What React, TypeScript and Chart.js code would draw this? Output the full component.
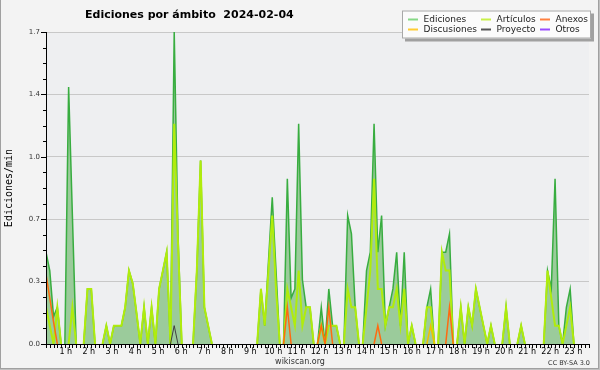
import { useEffect, useRef } from 'react';
import { Chart, registerables } from 'chart.js';

Chart.register(...registerables);

// ---- data: 10-minute bins over 2024-02-04 (edits per minute) ----
const BIN_HOURS = 1 / 6;
const SERIES_NAMES = ['Ediciones', 'Artículos', 'Anexos', 'Discusiones', 'Proyecto', 'Otros'];

const EDICIONES = [
  0.5, 0.4, 0.15, 0.2, 0, 0, 1.4, 0.7, 0, 0, 0, 0.3,
  0.3, 0, 0, 0, 0.1, 0, 0.1, 0.1, 0.1, 0.2, 0.4, 0.33,
  0.17, 0, 0.2, 0, 0.2, 0, 0.3, 0.4, 0.5, 0, 1.7, 0.6,
  0, 0, 0, 0, 0.4, 1.0, 0.2, 0.1, 0, 0, 0, 0,
  0, 0, 0, 0, 0, 0, 0, 0, 0, 0.3, 0.1, 0.45,
  0.8, 0.4, 0, 0, 0.9, 0.25, 0.3, 1.2, 0.35, 0.2, 0.2, 0,
  0, 0.2, 0, 0.3, 0.1, 0.1, 0, 0, 0.7, 0.6, 0.2, 0,
  0, 0.4, 0.5, 1.2, 0.5, 0.7, 0.1, 0.2, 0.3, 0.5, 0.1, 0.5,
  0, 0.1, 0, 0, 0, 0.2, 0.3, 0, 0, 0.5, 0.5, 0.6,
  0, 0, 0.2, 0, 0.2, 0.1, 0.3, 0.2, 0.1, 0, 0.1, 0,
  0, 0, 0.2, 0, 0, 0, 0.1, 0, 0, 0, 0, 0,
  0, 0.4, 0.3, 0.9, 0.1, 0, 0.2, 0.3, 0, 0, 0, 0,
];

const ARTICULOS = [
  0.2, 0.1, 0, 0.2, 0, 0, 0, 0.2, 0, 0, 0, 0.3,
  0.3, 0, 0, 0, 0.1, 0, 0.1, 0.1, 0.1, 0.2, 0.4, 0.33,
  0.17, 0, 0.2, 0, 0.2, 0, 0.3, 0.4, 0.5, 0, 1.2, 0.55,
  0, 0, 0, 0, 0.4, 1.0, 0.2, 0.1, 0, 0, 0, 0,
  0, 0, 0, 0, 0, 0, 0, 0, 0, 0.3, 0.1, 0.4,
  0.7, 0.3, 0, 0, 0.3, 0.2, 0.1, 0.4, 0.1, 0.2, 0.2, 0,
  0, 0.1, 0, 0.1, 0.1, 0.1, 0, 0, 0.3, 0.2, 0.2, 0,
  0, 0.2, 0.4, 0.9, 0.3, 0.3, 0.1, 0.2, 0.2, 0.3, 0.1, 0.3,
  0, 0.1, 0, 0, 0, 0.2, 0.2, 0, 0, 0.5, 0.4, 0.4,
  0, 0, 0.2, 0, 0.2, 0.1, 0.3, 0.2, 0.1, 0, 0.1, 0,
  0, 0, 0.2, 0, 0, 0, 0.1, 0, 0, 0, 0, 0,
  0, 0.4, 0.25, 0.1, 0.1, 0, 0.1, 0.2, 0, 0, 0, 0,
];

const ANEXOS = [
  0.38, 0.25, 0.12, 0, 0, 0, 0, 0, 0, 0, 0, 0,
  0, 0, 0, 0, 0, 0, 0, 0, 0, 0, 0, 0,
  0, 0, 0, 0, 0, 0, 0, 0, 0, 0, 0, 0,
  0, 0, 0, 0, 0, 0, 0, 0, 0, 0, 0, 0,
  0, 0, 0, 0, 0, 0, 0, 0, 0, 0, 0, 0,
  0, 0, 0, 0, 0.2, 0, 0, 0, 0, 0, 0, 0,
  0, 0.1, 0, 0.2, 0, 0, 0, 0, 0, 0, 0, 0,
  0, 0, 0, 0, 0.1, 0, 0, 0, 0, 0, 0, 0,
  0, 0, 0, 0, 0, 0, 0, 0, 0, 0, 0, 0.2,
  0, 0, 0, 0, 0, 0, 0, 0, 0, 0, 0, 0,
  0, 0, 0, 0, 0, 0, 0, 0, 0, 0, 0, 0,
  0, 0, 0, 0, 0, 0, 0, 0, 0, 0, 0, 0,
];

const DISCUSIONES = [
  0, 0, 0, 0, 0, 0, 0, 0, 0, 0, 0, 0,
  0, 0, 0, 0, 0, 0, 0, 0, 0, 0, 0, 0,
  0, 0, 0, 0, 0, 0, 0, 0, 0, 0, 0, 0,
  0, 0, 0, 0, 0, 0, 0, 0, 0, 0, 0, 0,
  0, 0, 0, 0, 0, 0, 0, 0, 0, 0, 0, 0,
  0, 0, 0, 0, 0, 0, 0, 0, 0, 0, 0, 0,
  0, 0, 0, 0, 0, 0, 0, 0, 0, 0, 0, 0,
  0, 0, 0, 0, 0, 0, 0, 0, 0, 0, 0, 0,
  0, 0, 0, 0, 0, 0, 0.1, 0, 0, 0, 0, 0,
  0, 0, 0, 0, 0, 0, 0, 0, 0, 0, 0, 0,
  0, 0, 0, 0, 0, 0, 0, 0, 0, 0, 0, 0,
  0, 0, 0, 0, 0, 0, 0, 0, 0, 0, 0, 0,
];

const PROYECTO = [
  0, 0, 0, 0, 0, 0, 0, 0, 0, 0, 0, 0,
  0, 0, 0, 0, 0, 0, 0, 0, 0, 0, 0, 0,
  0, 0, 0, 0, 0, 0, 0, 0, 0, 0, 0.1, 0,
  0, 0, 0, 0, 0, 0, 0, 0, 0, 0, 0, 0,
  0, 0, 0, 0, 0, 0, 0, 0, 0, 0, 0, 0,
  0, 0, 0, 0, 0, 0, 0, 0, 0, 0, 0, 0,
  0, 0, 0, 0, 0, 0, 0, 0, 0, 0, 0, 0,
  0, 0, 0, 0, 0, 0, 0, 0, 0, 0, 0, 0,
  0, 0, 0, 0, 0, 0, 0, 0, 0, 0, 0, 0,
  0, 0, 0, 0, 0, 0, 0, 0, 0, 0, 0, 0,
  0, 0, 0, 0, 0, 0, 0, 0, 0, 0, 0, 0,
  0, 0, 0, 0, 0, 0, 0, 0, 0, 0, 0, 0,
];

const OTROS = new Array(144).fill(0);

const HOUR_TICKS = [1, 2, 3, 4, 5, 6, 7, 8, 9, 10, 11, 12, 13, 14, 15, 16, 17, 18, 19, 20, 21, 22, 23];
const Y_MAX = 1.7;
const Y_STEP = 0.34;
const Y_MINOR = 4;

const TITLE = 'Ediciones por ámbito  2024-02-04';
const Y_TITLE = 'Ediciones/min';
const FOOTER = 'wikiscan.org';
const LICENSE = 'CC BY-SA 3.0';

// ---- styles ----
const LINE_COLORS = ['#38ad40', '#b0ec0c', '#ff6a10', '#f0c000', '#404040', '#9933ff'];
const LEGEND_COLORS = ['#86d886', '#c8f048', '#ff8040', '#ffcc33', '#555555', '#9a4cff'];
const LINE_WIDTHS = [1.5, 2, 1.5, 1.5, 1, 1];
const FONT = '"DejaVu Sans", sans-serif';

const hiddenZero = (ctx: any) =>
  ctx.p0.parsed.y === 0 && ctx.p1.parsed.y === 0 ? 'rgba(0,0,0,0)' : undefined;

const decorPlugin = {
  id: 'decor',
  beforeDraw(chart: any) {
    const { ctx, chartArea: a, width, height } = chart;
    ctx.save();
    ctx.fillStyle = '#f3f3f3';
    ctx.fillRect(0, 0, width, height);
    ctx.fillStyle = '#eeeff1';
    ctx.fillRect(a.left, a.top, a.right - a.left, a.bottom - a.top);
    ctx.restore();
  },
  afterDraw(chart: any) {
    const { ctx, chartArea: a, width, height } = chart;
    const xs = chart.scales.x;
    const ys = chart.scales.y;
    ctx.save();
    // tick marks
    ctx.strokeStyle = '#000';
    ctx.lineWidth = 1;
    ctx.beginPath();
    const nBins = Math.round(24 / BIN_HOURS);
    for (let k = 0; k <= nBins; k++) {
      const px = Math.round(xs.getPixelForValue(k * BIN_HOURS)) + 0.5;
      ctx.moveTo(px, a.bottom);
      ctx.lineTo(px, a.bottom + 4);
    }
    const nMinor = Math.round(Y_MAX / (Y_STEP / Y_MINOR));
    for (let k = 0; k <= nMinor; k++) {
      const py = Math.round(ys.getPixelForValue((k * Y_STEP) / Y_MINOR)) + 0.5;
      const len = k % Y_MINOR === 0 ? 5 : 3;
      ctx.moveTo(a.left - len, py);
      ctx.lineTo(a.left, py);
    }
    ctx.stroke();

    // title
    ctx.fillStyle = '#000';
    ctx.font = `bold 11px ${FONT}`;
    ctx.textBaseline = 'alphabetic';
    ctx.textAlign = 'left';
    ctx.fillText(TITLE, 85, 18);

    // legend box
    const bx = 402, by = 10.5, bw = 189, bh = 28;
    ctx.fillStyle = '#a0a0a0';
    ctx.fillRect(bx + 3, by + 3, bw, bh);
    ctx.fillStyle = '#fbfbfb';
    ctx.fillRect(bx, by, bw, bh);
    ctx.strokeStyle = '#a8a8a8';
    ctx.strokeRect(bx + 0.5, by + 0.5, bw - 1, bh - 1);
    const colX = [408, 481, 540];
    const rowY = [19.5, 29.5];
    const order = [
      [0, 0, 0], [1, 1, 0], [2, 2, 0],
      [3, 0, 1], [4, 1, 1], [5, 2, 1],
    ];
    ctx.font = `9px ${FONT}`;
    ctx.textBaseline = 'middle';
    for (const [si, c, r] of order) {
      ctx.strokeStyle = LEGEND_COLORS[si];
      ctx.lineWidth = 2;
      ctx.beginPath();
      ctx.moveTo(colX[c], rowY[r]);
      ctx.lineTo(colX[c] + 10, rowY[r]);
      ctx.stroke();
      ctx.fillStyle = '#222';
      ctx.fillText(SERIES_NAMES[si], colX[c] + 15.5, rowY[r] + 0.5);
    }

    // footer
    ctx.fillStyle = '#333';
    ctx.font = `8px ${FONT}`;
    ctx.textAlign = 'center';
    ctx.textBaseline = 'alphabetic';
    ctx.fillText(FOOTER, 300, 364);
    ctx.font = `6.5px ${FONT}`;
    ctx.textAlign = 'right';
    ctx.fillText(LICENSE, 590, 365);

    // frame
    ctx.strokeStyle = '#a0a0a0';
    ctx.lineWidth = 1;
    ctx.beginPath();
    ctx.moveTo(0.5, 0);
    ctx.lineTo(0.5, height);
    ctx.moveTo(width - 1.5, 0);
    ctx.lineTo(width - 1.5, height);
    ctx.moveTo(0, height - 1.5);
    ctx.lineTo(width, height - 1.5);
    ctx.stroke();
    ctx.strokeStyle = '#c0c0c0';
    ctx.beginPath();
    ctx.moveTo(width - 0.5, 0);
    ctx.lineTo(width - 0.5, height);
    ctx.moveTo(0, height - 0.5);
    ctx.lineTo(width, height - 0.5);
    ctx.stroke();
    ctx.restore();
  },
};

export default function App() {
  const ref = useRef<HTMLCanvasElement>(null);

  useEffect(() => {
    if (!ref.current) return;
    const pts = (arr: number[]) => arr.map((v, i) => ({ x: i * BIN_HOURS, y: v }));
    const all = [EDICIONES, ARTICULOS, ANEXOS, DISCUSIONES, PROYECTO, OTROS];
    const datasets: any[] = all.map((arr, si) => ({
      label: SERIES_NAMES[si],
      data: pts(arr),
      borderColor: LINE_COLORS[si],
      borderWidth: LINE_WIDTHS[si],
      backgroundColor: si === 0 ? '#9bcb9b' : 'rgba(0,0,0,0)',
      fill: si === 0 ? 'origin' : false,
      pointRadius: 0,
      tension: 0,
      order: si === 0 ? 10 : 6 - si,
      segment: { borderColor: hiddenZero },
    }));

    const chart = new Chart(ref.current, {
      type: 'line',
      data: { datasets },
      options: {
        animation: false,
        responsive: false,
        devicePixelRatio: 1,
        layout: { padding: { top: 32, right: 11, bottom: 0, left: 0 } },
        plugins: {
          legend: { display: false },
          title: { display: false },
          tooltip: { enabled: false },
        },
        scales: {
          x: {
            type: 'linear',
            min: 0,
            max: 24,
            position: 'bottom',
            weight: 0,
            grid: { display: false, drawTicks: false },
            border: { display: true, color: '#000', width: 1, z: 1 },
            ticks: { display: false },
            afterFit: (s: any) => { s.height = 1; },
          },
          xh: {
            type: 'linear',
            min: 0.143,
            max: 23.68,
            position: 'bottom',
            weight: 1,
            grid: { display: false, drawTicks: false },
            border: { display: false },
            afterBuildTicks: (s: any) => { s.ticks = HOUR_TICKS.map((h) => ({ value: h })); },
            ticks: {
              autoSkip: false,
              maxRotation: 0,
              minRotation: 0,
              padding: 2,
              color: '#000',
              font: { family: '"DejaVu Sans", sans-serif', size: 8 },
              callback: (v: any) => `${v} h`,
            },
            afterFit: (s: any) => { s.height = 25; },
          },
          y: {
            type: 'linear',
            min: 0,
            max: Y_MAX,
            grid: {
              display: true,
              drawTicks: false,
              color: (c: any) => (c.tick && c.tick.value === 0 ? 'rgba(0,0,0,0)' : '#c8c8c8'),
              lineWidth: 1,
            },
            border: { display: true, color: '#000', width: 1, z: 1 },
            ticks: {
              stepSize: Y_STEP,
              padding: 6,
              color: '#333',
              font: { family: '"DejaVu Sans", sans-serif', size: 7 },
              callback: (v: any) => Number(v).toFixed(1),
            },
            title: {
              display: true,
              text: Y_TITLE,
              color: '#000',
              font: { family: '"DejaVu Sans Mono", monospace', size: 10 },
              padding: { top: 3, bottom: 0 },
            },
            afterFit: (s: any) => { s.width = 46; },
          },
        },
      },
      plugins: [decorPlugin],
    });
    return () => chart.destroy();
  }, []);

  return (
    <div style={{ position: 'absolute', left: 0, top: 0, width: 600, height: 370 }}>
      <canvas ref={ref} width={600} height={370} style={{ display: 'block', width: 600, height: 370 }} />
    </div>
  );
}
